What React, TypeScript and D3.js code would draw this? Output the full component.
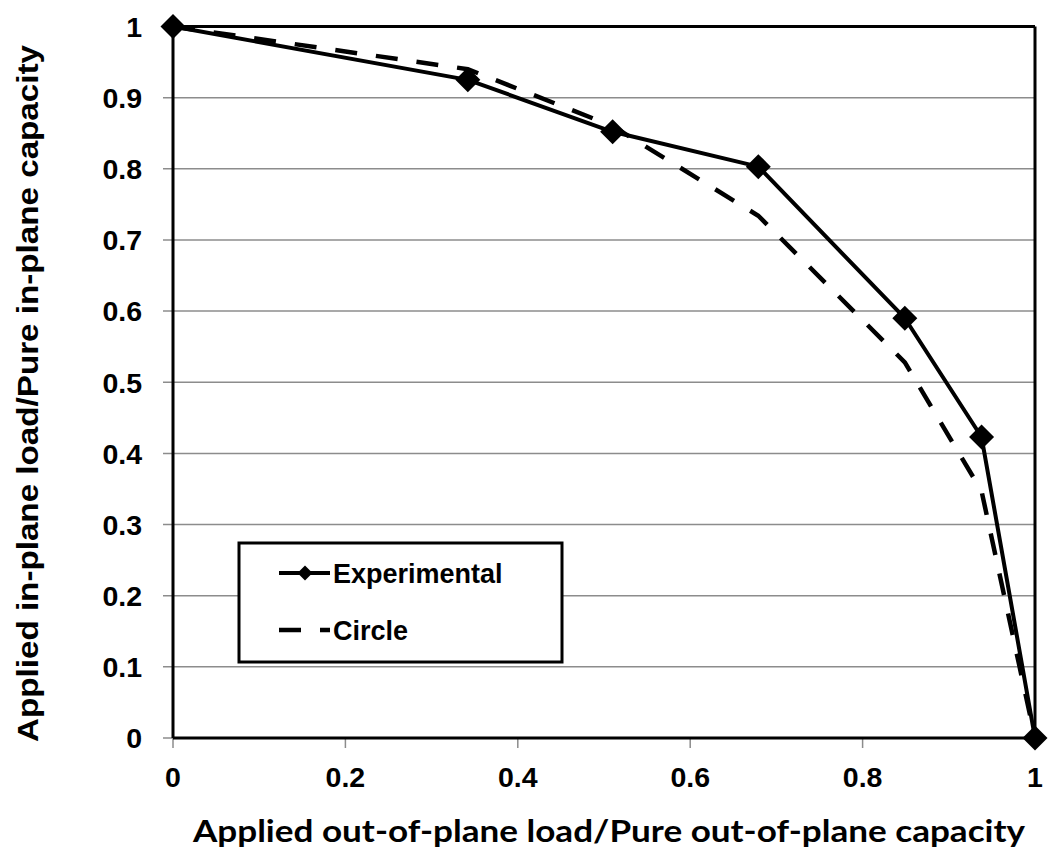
import React from "react";
import * as d3 from "d3";

const expX = [0, 0.342, 0.51, 0.679, 0.849, 0.938, 1];
const expY = [1, 0.925, 0.852, 0.803, 0.59, 0.423, 0];
const circX = [0, 0.342, 0.51, 0.679, 0.849, 0.938, 1];
const circY = [1, 0.94, 0.86, 0.734, 0.528, 0.347, 0];
const xTicks = [0, 0.2, 0.4, 0.6, 0.8, 1];
const yTicks = [0, 0.1, 0.2, 0.3, 0.4, 0.5, 0.6, 0.7, 0.8, 0.9, 1];
const seriesNames = ["Experimental", "Circle"];
const xTitle = "Applied out-of-plane load/Pure out-of-plane capacity";
const yTitle = "Applied in-plane load/Pure in-plane capacity";

const W = 1049;
const H = 858;
const L = 173, R = 1035, T = 26.5, B = 738;

export default function App() {
  const x = d3.scaleLinear().domain([0, 1]).range([L, R]);
  const y = d3.scaleLinear().domain([0, 1]).range([B, T]);
  const fmt = (v: number) => d3.format("~g")(v);
  const line = d3
    .line<[number, number]>()
    .x((d) => x(d[0]))
    .y((d) => y(d[1]));
  const expPts: [number, number][] = expX.map((v, i) => [v, expY[i]]);
  const circPts: [number, number][] = circX.map((v, i) => [v, circY[i]]);
  const diamond = (cx: number, cy: number, r: number) =>
    `M${cx},${cy - r}L${cx + r},${cy}L${cx},${cy + r}L${cx - r},${cy}Z`;
  const tickFont = "'Liberation Sans', Arial, sans-serif";

  return (
    <svg
      width={W}
      height={H}
      style={{ position: "absolute", left: 0, top: 0, background: "#fff" }}
    >
      <rect x={0} y={0} width={W} height={H} fill="#fff" />
      {yTicks.map((t) => (
        <line
          key={"g" + t}
          x1={L - 10}
          x2={R}
          y1={y(t)}
          y2={y(t)}
          stroke="#8c8c8c"
          strokeWidth={1.5}
        />
      ))}
      {xTicks.map((t) => (
        <line
          key={"xt" + t}
          x1={x(t)}
          x2={x(t)}
          y1={B}
          y2={B + 10}
          stroke="#8c8c8c"
          strokeWidth={1.5}
        />
      ))}
      <line x1={L} x2={R} y1={T} y2={T} stroke="#000" strokeWidth={3} />
      <line x1={R} x2={R} y1={T} y2={B} stroke="#000" strokeWidth={3} />
      <line x1={L} x2={L} y1={T} y2={B} stroke="#000" strokeWidth={3} />
      <line x1={L} x2={R} y1={B} y2={B} stroke="#000" strokeWidth={3} />
      {yTicks.map((t) => (
        <text
          key={"yl" + t}
          x={142}
          y={y(t)}
          dy="0.36em"
          textAnchor="end"
          fontFamily={tickFont}
          fontWeight="bold"
          fontSize={28.5}
          fill="#000"
        >
          {fmt(t)}
        </text>
      ))}
      {xTicks.map((t) => (
        <text
          key={"xl" + t}
          x={x(t)}
          y={787}
          textAnchor="middle"
          fontFamily={tickFont}
          fontWeight="bold"
          fontSize={28.5}
          fill="#000"
        >
          {fmt(t)}
        </text>
      ))}
      <path
        d={line(expPts) || ""}
        fill="none"
        stroke="#000"
        strokeWidth={4}
        strokeLinejoin="round"
      />
      {expPts.map((p, i) => (
        <path key={"m" + i} d={diamond(x(p[0]), y(p[1]), 12.5)} fill="#000" />
      ))}
      <path
        d={line(circPts) || ""}
        fill="none"
        stroke="#000"
        strokeWidth={4.5}
        strokeDasharray="22,19"
      />
      <rect
        x={239}
        y={543}
        width={323}
        height={119}
        fill="#fff"
        stroke="#000"
        strokeWidth={3}
      />
      <line x1={279} x2={330} y1={573} y2={573} stroke="#000" strokeWidth={4} />
      <path d={diamond(305, 573, 7.5)} fill="#000" />
      <text
        x={333}
        y={583}
        fontFamily={tickFont}
        fontWeight="bold"
        fontSize={27}
        fill="#000"
      >
        {seriesNames[0]}
      </text>
      <line
        x1={279}
        x2={330}
        y1={630}
        y2={630}
        stroke="#000"
        strokeWidth={4.5}
        strokeDasharray="22,19"
      />
      <text
        x={333}
        y={640}
        fontFamily={tickFont}
        fontWeight="bold"
        fontSize={27}
        fill="#000"
      >
        {seriesNames[1]}
      </text>
      <text
        x={193}
        y={842}
        fontFamily="Lato, 'Liberation Sans', sans-serif"
        fontWeight="bold"
        fontSize={30}
        textLength={832}
        lengthAdjust="spacingAndGlyphs"
        fill="#000"
      >
        {xTitle}
      </text>
      <text
        transform="translate(38,742) rotate(-90)"
        x={0}
        y={0}
        fontFamily={tickFont}
        fontWeight="bold"
        fontSize={30}
        textLength={697}
        lengthAdjust="spacingAndGlyphs"
        fill="#000"
      >
        {yTitle}
      </text>
    </svg>
  );
}
